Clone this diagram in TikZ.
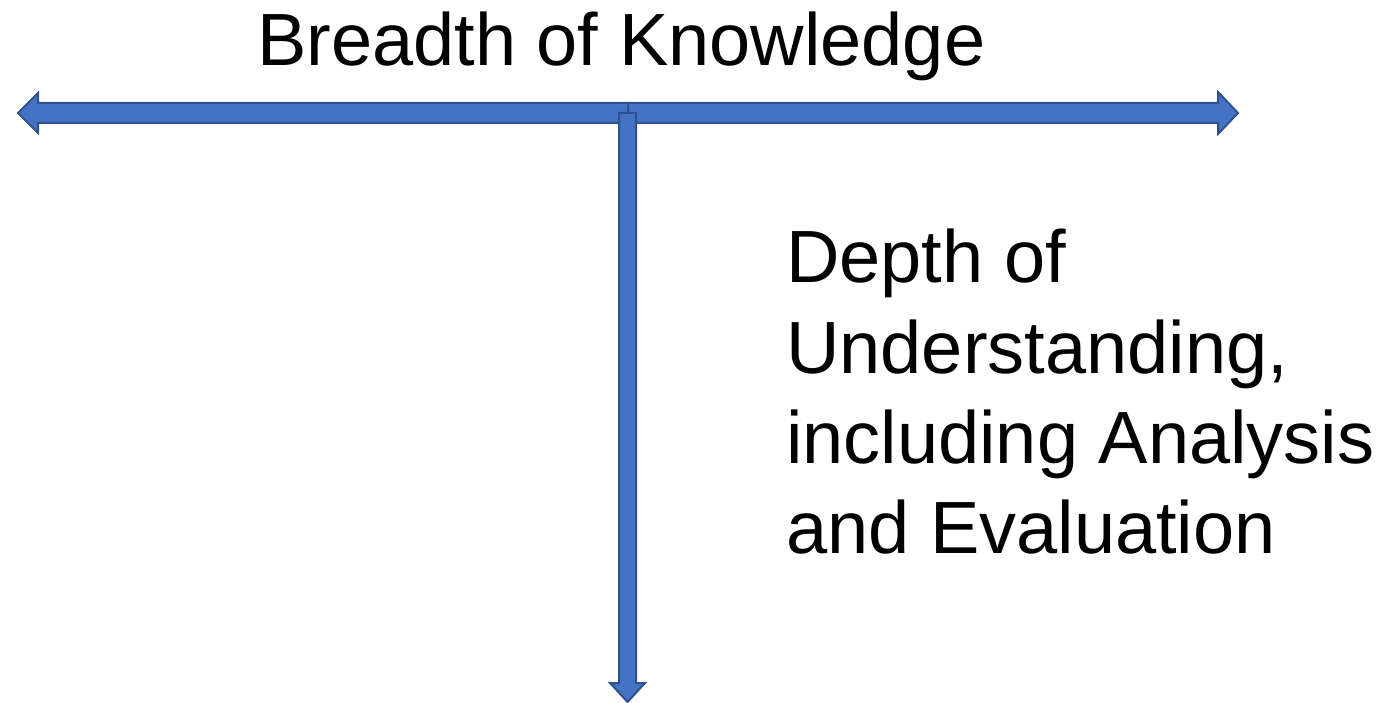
\documentclass[tikz,border=0pt]{standalone}
\usepackage{fontspec}
\setmainfont{Liberation Sans}
\begin{document}
\begin{tikzpicture}[x=1pt,y=-1pt,
  arrowbody/.style={fill=arrowfill,draw=arrowline,line width=2pt,line join=miter},
  label/.style={inner sep=0pt,anchor=base west,font=\fontsize{74pt}{90pt}\selectfont}]
\definecolor{arrowfill}{HTML}{4472C4}
\definecolor{arrowline}{HTML}{2F528F}
\useasboundingbox (0,0) rectangle (1389,703);
% left-pointing half of the breadth axis
\draw[arrowbody] (628,103) -- (38,103) -- (38,93) -- (18,113) -- (38,133) -- (38,123) -- (628,123) -- cycle;
% right-pointing half of the breadth axis
\draw[arrowbody] (628,103) -- (1218,103) -- (1218,92) -- (1238,113) -- (1218,134) -- (1218,123) -- (628,123) -- cycle;
% depth axis pointing down
\draw[arrowbody] (619,113) -- (636,113) -- (636,683) -- (645,683) -- (627.5,702) -- (610,683) -- (619,683) -- cycle;
% labels
\node[label] (breadth) at (257,66) {Breadth of Knowledge};
\node[label] (d1) at (786,283) {Depth of};
\node[label] (d2) at (786,373) {Understanding,};
\node[label] (d3) at (786,463) {including Analysis};
\node[label] (d4) at (786,553) {and Evaluation};
\end{tikzpicture}
\end{document}
